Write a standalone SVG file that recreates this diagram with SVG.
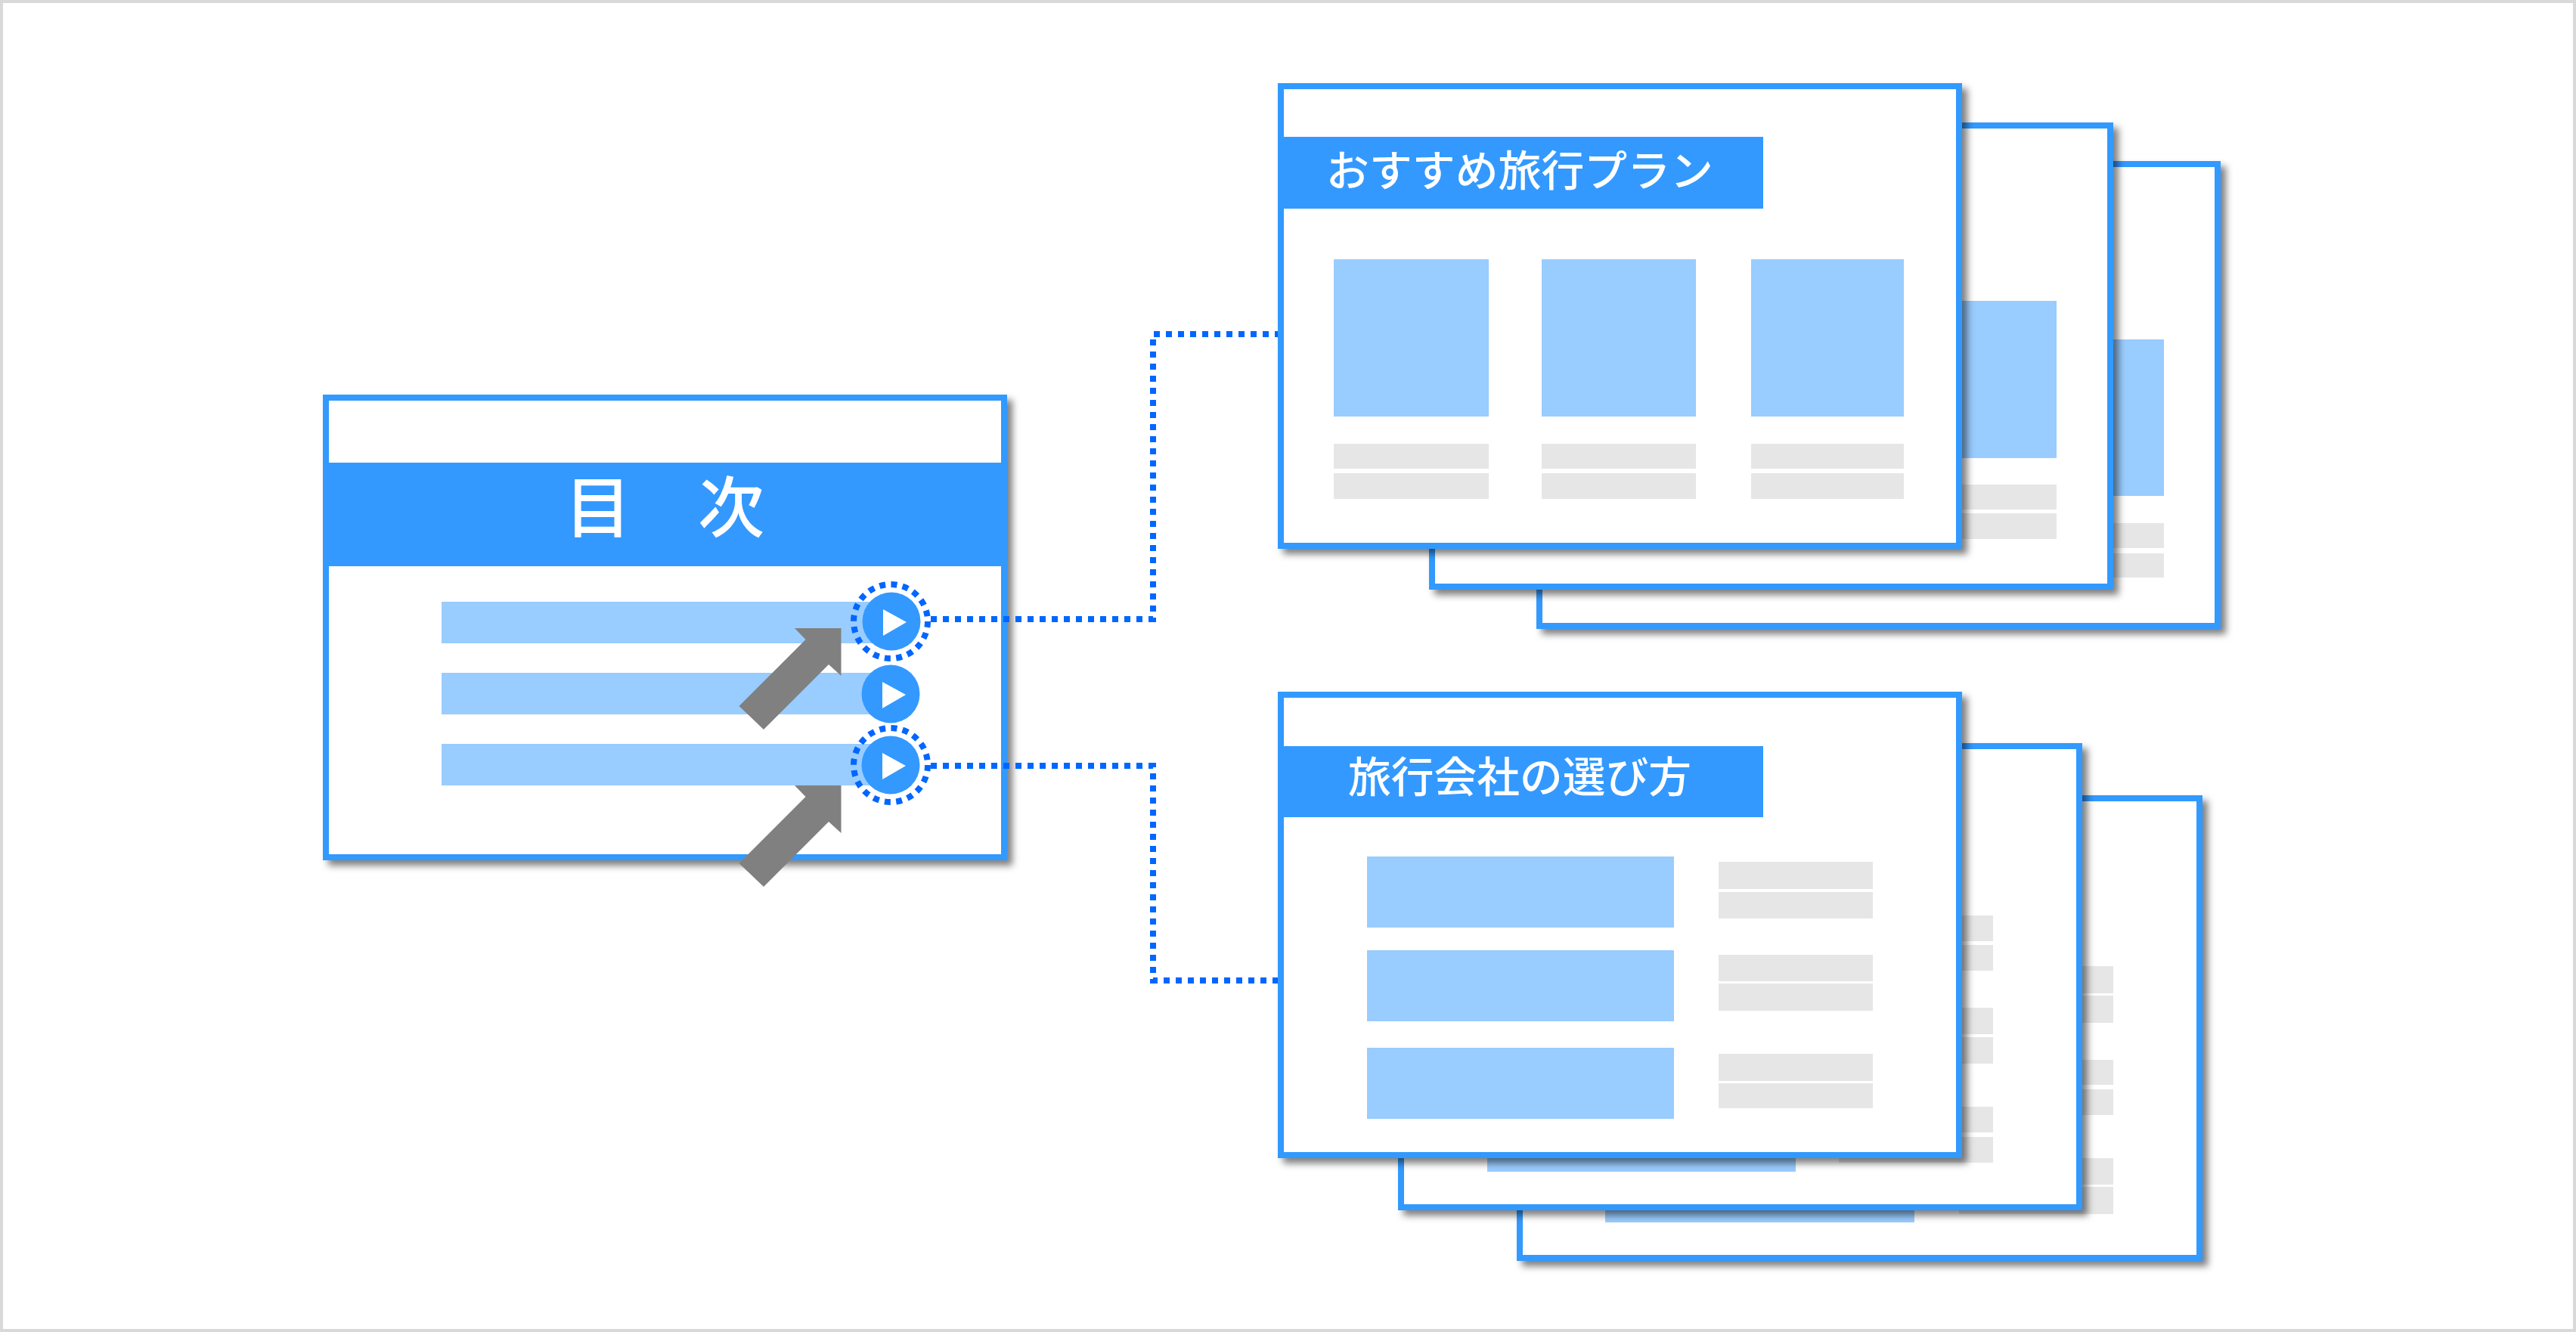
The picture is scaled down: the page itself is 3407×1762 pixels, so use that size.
<svg xmlns="http://www.w3.org/2000/svg" width="3407" height="1762" viewBox="0 0 3407 1762">
<style>
.frame{fill:#fff;stroke:#3399ff;stroke-width:8;filter:url(#sh)}
.hdr{fill:#3399ff}
.lb{fill:#99ccff}
.gr{fill:#e6e6e6}
.btn{fill:#3399ff}
.tri{fill:#fff}
.ring{fill:none;stroke:#0066ff;stroke-width:8;stroke-dasharray:8 7.4}
.conn{fill:none;stroke:#0066ff;stroke-width:8;stroke-dasharray:8 8}
.arr{fill:#808080}
.t{fill:#fff;font-family:"Noto Sans CJK JP","Noto Sans CJK SC",sans-serif;font-weight:500}
</style>
<defs>
<filter id="sh" x="-5%" y="-5%" width="110%" height="110%">
<feDropShadow dx="7" dy="7" stdDeviation="5" flood-color="#000" flood-opacity="0.5"/>
</filter>
</defs>
<rect x="2" y="2" width="3403" height="1758" fill="#fff" stroke="#d9d9d9" stroke-width="4"/>

<g id="toc">
<rect class="frame" x="431" y="526" width="897" height="608"/>
<rect class="hdr" x="427" y="612" width="906" height="137"/>
<text class="t" x="879" y="703" font-size="88" text-anchor="middle">目　次</text>
<rect class="lb" x="584" y="796" width="570" height="55"/>
<rect class="lb" x="584" y="890" width="570" height="55"/>
<rect class="lb" x="584" y="984" width="570" height="55"/>
<circle class="btn" cx="1179" cy="822" r="38.5"/>
<polygon class="tri" points="1168,806 1168,841 1199,823"/>
<circle class="btn" cx="1178" cy="918" r="38.5"/>
<polygon class="tri" points="1167,902 1167,937 1198,919"/>
<circle class="btn" cx="1178" cy="1012" r="38.5"/>
<polygon class="tri" points="1167,996 1167,1031 1198,1013"/>
<circle class="ring" cx="1178" cy="822" r="49"/>
<circle class="ring" cx="1178" cy="1012" r="49"/>
</g>

<g id="connectors">
<path class="conn" d="M1231 819H1525V442H1690"/>
<path class="conn" d="M1231 1013H1525V1297H1690"/>
</g>

<g id="arrow-1"><polygon class="arr" points="1051,831 1112.5,831 1112.5,894 1096,879 1010,965 977.5,934 1065.5,846"/></g>
<g id="arrow-2"><polygon class="arr" points="1051,1039 1112.5,1039 1112.5,1102 1096,1087 1010,1173 977.5,1142 1065.5,1054"/></g>

<g id="plan-back">
<rect class="frame" x="2036" y="217" width="897" height="611"/>
<rect class="lb" x="2660" y="449" width="202" height="207"/>
<rect class="gr" x="2660" y="692" width="202" height="33"/>
<rect class="gr" x="2660" y="732" width="202" height="32"/>
</g>
<g id="plan-middle">
<rect class="frame" x="1894" y="166" width="897" height="610"/>
<rect class="lb" x="2516" y="398" width="204" height="208"/>
<rect class="gr" x="2516" y="641" width="204" height="33"/>
<rect class="gr" x="2516" y="679" width="204" height="34"/>
</g>
<g id="plan-front">
<rect class="frame" x="1694" y="114" width="897" height="608"/>
<rect class="hdr" x="1690" y="181" width="642" height="95"/>
<text class="t" x="1754" y="246" font-size="56" textLength="512" lengthAdjust="spacingAndGlyphs">おすすめ旅行プラン</text>
<rect class="lb" x="1764" y="343" width="205" height="208"/>
<rect class="lb" x="2039" y="343" width="204" height="208"/>
<rect class="lb" x="2316" y="343" width="202" height="208"/>
<rect class="gr" x="1764" y="587" width="205" height="33"/>
<rect class="gr" x="2039" y="587" width="204" height="33"/>
<rect class="gr" x="2316" y="587" width="202" height="33"/>
<rect class="gr" x="1764" y="626" width="205" height="34"/>
<rect class="gr" x="2039" y="626" width="204" height="34"/>
<rect class="gr" x="2316" y="626" width="202" height="34"/>
</g>

<g id="guide-back">
<rect class="frame" x="2010" y="1056" width="899" height="608"/>
<rect class="lb" x="2123" y="1523" width="409" height="94"/>
<rect class="gr" x="2591" y="1278" width="204" height="36"/>
<rect class="gr" x="2591" y="1317" width="204" height="36"/>
<rect class="gr" x="2591" y="1402" width="204" height="33"/>
<rect class="gr" x="2591" y="1441" width="204" height="34"/>
<rect class="gr" x="2591" y="1532" width="204" height="35"/>
<rect class="gr" x="2591" y="1570" width="204" height="36"/>
</g>
<g id="guide-middle">
<rect class="frame" x="1853" y="987" width="897" height="610"/>
<rect class="lb" x="1967" y="1456" width="408" height="94"/>
<rect class="gr" x="2432" y="1211" width="204" height="34"/>
<rect class="gr" x="2432" y="1250" width="204" height="34"/>
<rect class="gr" x="2432" y="1333" width="204" height="35"/>
<rect class="gr" x="2432" y="1372" width="204" height="35"/>
<rect class="gr" x="2432" y="1464" width="204" height="34"/>
<rect class="gr" x="2432" y="1504" width="204" height="34"/>
</g>
<g id="guide-front">
<rect class="frame" x="1694" y="919" width="897" height="609"/>
<rect class="hdr" x="1690" y="987" width="642" height="94"/>
<text class="t" x="1783" y="1048" font-size="56" textLength="454" lengthAdjust="spacingAndGlyphs">旅行会社の選び方</text>
<rect class="lb" x="1808" y="1133" width="406" height="94"/>
<rect class="lb" x="1808" y="1257" width="406" height="94"/>
<rect class="lb" x="1808" y="1386" width="406" height="94"/>
<rect class="gr" x="2273" y="1140" width="204" height="36"/>
<rect class="gr" x="2273" y="1180" width="204" height="35"/>
<rect class="gr" x="2273" y="1263" width="204" height="35"/>
<rect class="gr" x="2273" y="1301" width="204" height="36"/>
<rect class="gr" x="2273" y="1394" width="204" height="36"/>
<rect class="gr" x="2273" y="1433" width="204" height="33"/>
</g>
</svg>
